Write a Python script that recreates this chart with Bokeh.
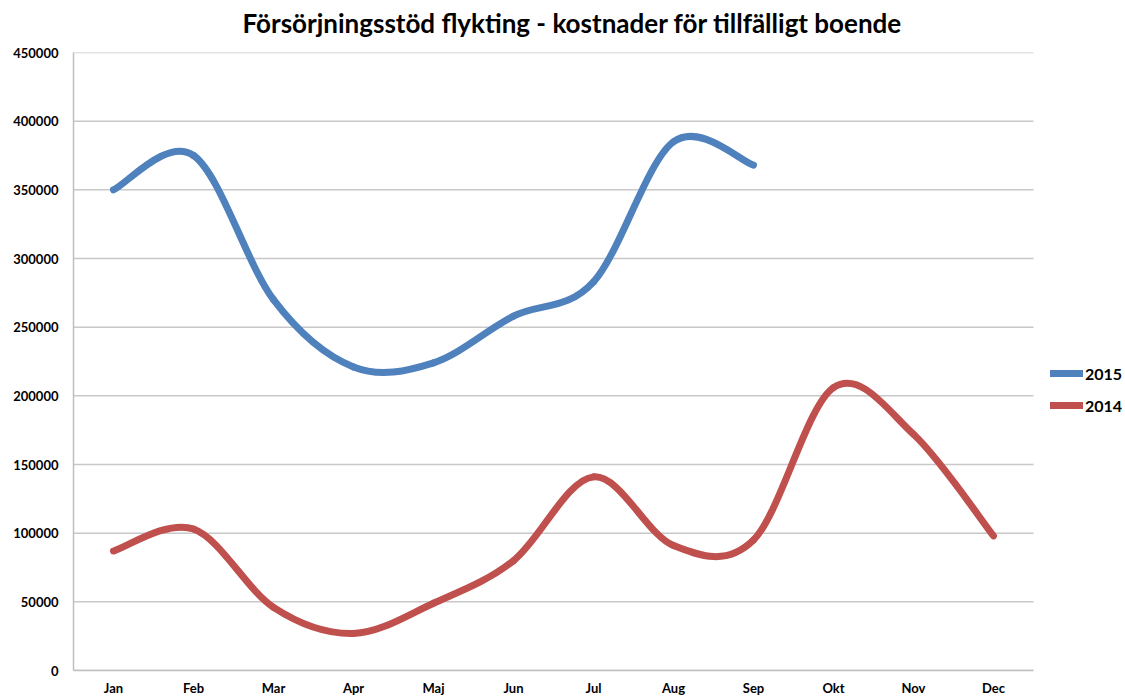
from bokeh.plotting import figure
from bokeh.models import Range1d, FixedTicker, Legend, LegendItem, BasicTickFormatter, ColumnDataSource
from bokeh.embed import file_html
from bokeh.resources import INLINE

months = ["Jan", "Feb", "Mar", "Apr", "Maj", "Jun", "Jul", "Aug", "Sep", "Okt", "Nov", "Dec"]
values_2015 = [350000, 375000, 270000, 221000, 224000, 258000, 283000, 385000, 368000]
values_2014 = [87000, 103000, 46000, 27000, 49000, 80000, 141000, 91000, 95000, 206000, 172000, 98000]
y_ticks = [0, 50000, 100000, 150000, 200000, 250000, 300000, 350000, 400000, 450000]

FONT = "Lato"
N = len(months)
PLOT_W = 960          # width of the category area in px
FRAME_W = 1052        # frame incl. legend zone on the right

p = figure(frame_width=FRAME_W, frame_height=618, output_backend="svg", toolbar_location=None,
           x_range=Range1d(0, N * FRAME_W / PLOT_W), y_range=Range1d(0, 450000),
           min_border_left=73, min_border_right=0, min_border_top=0, min_border_bottom=28)
p.styles = {"margin-top": "-5px"}
p.outline_line_color = None
p.background_fill_color = "white"
p.border_fill_color = "white"

p.title.text = "Försörjningsstöd flykting - kostnader för tillfälligt boende"
p.title.align = "left"
p.title.vertical_align = "top"
p.title.text_font = FONT
p.title.text_font_size = "26px"
p.title.text_font_style = "bold"
p.title.text_color = "black"
p.title.offset = 169
p.title.standoff = 23

# horizontal grid lines limited to the category area
p.segment(x0=[0] * len(y_ticks), x1=[N] * len(y_ticks), y0=y_ticks, y1=y_ticks,
          line_color="#C8C8C8", line_width=1.5)


def bezier_source(vals):
    n = len(vals)
    xs = [i + 0.5 for i in range(n)]
    d = dict(x0=[], y0=[], x1=[], y1=[], cx0=[], cy0=[], cx1=[], cy1=[])
    for i in range(n - 1):
        a = i - 1 if i > 0 else i
        b = i + 2 if i + 2 < n else i + 1
        d["x0"].append(xs[i]); d["y0"].append(vals[i])
        d["x1"].append(xs[i + 1]); d["y1"].append(vals[i + 1])
        d["cx0"].append(xs[i] + (xs[i + 1] - xs[a]) / 6)
        d["cy0"].append(vals[i] + (vals[i + 1] - vals[a]) / 6)
        d["cx1"].append(xs[i + 1] - (xs[b] - xs[i]) / 6)
        d["cy1"].append(vals[i + 1] - (vals[b] - vals[i]) / 6)
    return ColumnDataSource(d)


r15 = p.bezier("x0", "y0", "x1", "y1", "cx0", "cy0", "cx1", "cy1", source=bezier_source(values_2015),
               line_color="#4F81BD", line_width=7, line_cap="round")
r14 = p.bezier("x0", "y0", "x1", "y1", "cx0", "cy0", "cx1", "cy1", source=bezier_source(values_2014),
               line_color="#C0504D", line_width=7, line_cap="round")

# axes
p.xaxis.ticker = FixedTicker(ticks=[i + 0.5 for i in range(N)])
p.xaxis.major_label_overrides = {i + 0.5: m for i, m in enumerate(months)}
p.xaxis.bounds = (0, N)
p.yaxis.ticker = FixedTicker(ticks=y_ticks)
p.yaxis.formatter = BasicTickFormatter(use_scientific=False)
for ax in (p.xaxis, p.yaxis):
    ax.axis_line_color = "#BFBFBF"
    ax.axis_line_width = 1.5
    ax.major_tick_line_color = None
    ax.minor_tick_line_color = None
    ax.major_tick_out = 0
    ax.major_tick_in = 0
    ax.minor_tick_out = 0
    ax.minor_tick_in = 0
    ax.major_label_text_font = FONT
    ax.major_label_text_font_size = "13px"
    ax.major_label_text_font_style = "bold"
    ax.major_label_text_color = "black"
p.yaxis.major_label_standoff = 15
p.xaxis.major_label_standoff = 9

p.xgrid.grid_line_color = None
p.ygrid.grid_line_color = None

legend = Legend(items=[LegendItem(label="2015", renderers=[r15]),
                       LegendItem(label="2014", renderers=[r14])],
                location=(977, 255))
legend.border_line_color = None
legend.background_fill_alpha = 0
legend.margin = 0
legend.padding = 0
legend.glyph_width = 33
legend.glyph_height = 20
legend.label_height = 20
legend.spacing = 12
legend.label_standoff = 2
legend.label_text_font = FONT
legend.label_text_font_size = "16px"
legend.label_text_font_style = "bold"
legend.label_text_color = "black"
p.add_layout(legend, "center")

open("out.html", "w").write(file_html(p, INLINE))
